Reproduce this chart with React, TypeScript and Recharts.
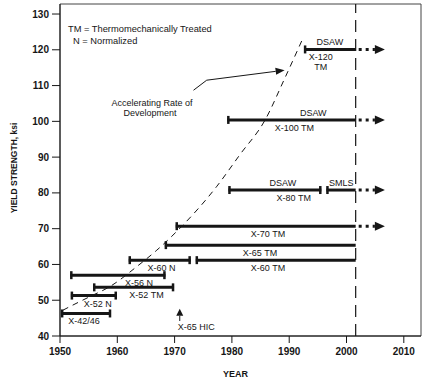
import {
  ComposedChart,
  Line,
  ReferenceArea,
  ReferenceLine,
  XAxis,
  YAxis,
} from "recharts";

const INK = "#161616";
const FONT = "'Liberation Sans', Arial, sans-serif";

const X_TICKS = [1950, 1960, 1970, 1980, 1990, 2000, 2010];
const Y_TICKS = [40, 50, 60, 70, 80, 90, 100, 110, 120, 130];

// dashed "accelerating rate of development" curve
const CURVE = [
  { year: 1950.5, ksi: 47.2 },
  { year: 1951.7, ksi: 48.2 },
  { year: 1955.2, ksi: 51.0 },
  { year: 1958.7, ksi: 53.8 },
  { year: 1963.4, ksi: 59.4 },
  { year: 1966.9, ksi: 64.0 },
  { year: 1970.6, ksi: 69.6 },
  { year: 1977.3, ksi: 81.7 },
  { year: 1981.4, ksi: 90.7 },
  { year: 1985.8, ksi: 100.4 },
  { year: 1989.1, ksi: 111.6 },
  { year: 1992.5, ksi: 123.6 },
];

// grade availability spans
const BARS = [
  { ksi: 46.3, from: 1950.2, to: 1958.9, below: ["X-42/46"], belowAt: 1954.2, endCap: true },
  { ksi: 51.3, from: 1951.9, to: 1959.9, below: ["X-52 N"], belowAt: 1956.6, endCap: true },
  { ksi: 53.6, from: 1955.8, to: 1969.9, below: ["X-52 TM"], belowAt: 1965.1, endCap: true },
  { ksi: 57.0, from: 1951.8, to: 1968.4, below: ["X-56 N"], belowAt: 1963.8, endCap: true },
  { ksi: 61.2, from: 1962.0, to: 1972.8, below: ["X-60 N"], belowAt: 1967.7, endCap: true },
  { ksi: 61.2, from: 1973.7, to: 2001.6, below: ["X-60 TM"], belowAt: 1986.3, endCap: false },
  { ksi: 65.4, from: 1968.3, to: 2001.6, below: ["X-65 TM"], belowAt: 1984.9, endCap: false },
  { ksi: 70.7, from: 1970.2, to: 2001.6, below: ["X-70 TM"], belowAt: 1986.3, endCap: false },
  { ksi: 80.8, from: 1979.4, to: 1995.6, below: ["X-80 TM"], belowAt: 1990.8, above: "DSAW", aboveAt: 1988.9, endCap: true },
  { ksi: 80.8, from: 1996.5, to: 2001.6, above: "SMLS", aboveAt: 1999.1, endCap: false },
  { ksi: 100.4, from: 1979.2, to: 2001.6, below: ["X-100 TM"], belowAt: 1990.9, above: "DSAW", aboveAt: 1994.2, endCap: false },
  { ksi: 120.1, from: 1992.6, to: 2001.6, below: ["X-120", "TM"], belowAt: 1995.5, above: "DSAW", aboveAt: 1997.1, endCap: false },
];

// dotted "continuing" arrows past 2001
const EXTENSIONS = [120.1, 100.4, 80.8, 70.7];
const EXT_FROM = 2001.6;
const EXT_TO = 2006.7;
const CUTOFF_YEAR = 2001.6;

// leader from the curve note to the curve
const LEADER = [
  { year: 1973.3, ksi: 108.7 },
  { year: 1975.6, ksi: 111.5 },
  { year: 1989.2, ksi: 114.3 },
];
const HIC = { year: 1970.9, from: 44.2, to: 47.6, label: "X-65 HIC" };

const txt = { fontFamily: FONT, fontSize: 9, fill: INK };

function BarShape(props: any) {
  const { x1, x2, y1, bar } = props;
  const y = y1;
  const px = (yr: number) => x1 + ((yr - bar.from) / (bar.to - bar.from)) * (x2 - x1);
  return (
    <g>
      <line x1={x1} x2={x2} y1={y} y2={y} stroke={INK} strokeWidth={3} />
      <line x1={x1 + 1} x2={x1 + 1} y1={y - 4} y2={y + 4} stroke={INK} strokeWidth={2.5} />
      {bar.endCap && (
        <line x1={x2 - 1} x2={x2 - 1} y1={y - 4} y2={y + 4} stroke={INK} strokeWidth={2.5} />
      )}
      {bar.below &&
        bar.below.map((t: string, i: number) => (
          <text key={t} x={px(bar.belowAt)} y={y + 8 + i * 10} textAnchor="middle" dominantBaseline="central" {...txt}>
            {t}
          </text>
        ))}
      {bar.above && (
        <text x={px(bar.aboveAt)} y={y - 7} textAnchor="middle" dominantBaseline="central" {...txt}>
          {bar.above}
        </text>
      )}
    </g>
  );
}

function Arrow(props: any) {
  const { x1, y1, x2, y2, head, dotted, len = 9, half = 4.5, width = 1, label } = props;
  const a = Math.atan2(y2 - y1, x2 - x1);
  const bx = x2 - Math.cos(a) * len;
  const by = y2 - Math.sin(a) * len;
  const nx = -Math.sin(a) * half;
  const ny = Math.cos(a) * half;
  return (
    <g>
      <line
        x1={dotted ? x1 + 3 : x1}
        y1={y1}
        x2={head ? bx : x2}
        y2={head ? by : y2}
        stroke={INK}
        strokeWidth={width}
        strokeDasharray={dotted ? "3 4" : undefined}
      />
      {head && (
        <polygon points={`${x2},${y2} ${bx + nx},${by + ny} ${bx - nx},${by - ny}`} fill={INK} />
      )}
      {label && (
        <text x={x1 - 2} y={y1 + 6} dominantBaseline="central" {...txt}>
          {label}
        </text>
      )}
    </g>
  );
}

export default function App() {
  return (
    <div style={{ position: "absolute", left: 0, top: 0, background: "#fff" }}>
      <ComposedChart
        width={425}
        height={380}
        data={CURVE}
        margin={{ top: 4, right: 4, left: 0, bottom: 0 }}
        style={{ fontFamily: FONT }}
      >
        <XAxis
          dataKey="year"
          type="number"
          domain={[1950, 2013]}
          ticks={X_TICKS}
          allowDataOverflow
          height={44}
          tickSize={7}
          tickMargin={5}
          stroke={INK}
          tick={{ fill: INK, fontSize: 10, fontWeight: "bold", fontFamily: FONT }}
          label={({ viewBox }: any) => (
            <text
              x={viewBox.x + viewBox.width / 2 - 5}
              y={374}
              textAnchor="middle"
              dominantBaseline="central"
              fontFamily={FONT}
              fontSize={9}
              fontWeight="bold"
              fill={INK}
            >
              YEAR
            </text>
          )}
        />
        <YAxis
          type="number"
          domain={[40, 132.8]}
          ticks={Y_TICKS}
          allowDataOverflow
          width={60}
          tickSize={8}
          tickMargin={3}
          stroke={INK}
          tick={{ fill: INK, fontSize: 10, fontWeight: "bold", fontFamily: FONT }}
          label={({ viewBox }: any) => (
            <text
              transform={`translate(14,${viewBox.y + viewBox.height / 2 - 2}) rotate(-90)`}
              textAnchor="middle"
              dominantBaseline="central"
              fontFamily={FONT}
              fontSize={8.5}
              fontWeight="bold"
              fill={INK}
            >
              YIELD STRENGTH, ksi
            </text>
          )}
        />
        <ReferenceArea x1={1950} x2={2013} y1={40} y2={132.8} fill="none" stroke="#444" strokeWidth={1} />

        <ReferenceLine x={CUTOFF_YEAR} stroke={INK} strokeWidth={1.2} strokeDasharray="12 7" />

        <Line
          dataKey="ksi"
          type="monotone"
          stroke={INK}
          strokeWidth={1}
          strokeDasharray="6 5"
          dot={false}
          activeDot={false}
          isAnimationActive={false}
        />

        {BARS.map((b, i) => (
          <ReferenceLine
            key={i}
            segment={[
              { x: b.from, y: b.ksi },
              { x: b.to, y: b.ksi },
            ]}
            shape={(p: any) => <BarShape {...p} bar={b} />}
          />
        ))}

        {EXTENSIONS.map((k) => (
          <ReferenceLine
            key={k}
            segment={[
              { x: EXT_FROM, y: k },
              { x: EXT_TO, y: k },
            ]}
            shape={(p: any) => <Arrow {...p} head dotted width={3} len={10} half={4.5} />}
          />
        ))}

        <ReferenceLine
          segment={[
            { x: LEADER[0].year, y: LEADER[0].ksi },
            { x: LEADER[1].year, y: LEADER[1].ksi },
          ]}
          shape={(p: any) => <Arrow {...p} />}
        />
        <ReferenceLine
          segment={[
            { x: LEADER[1].year, y: LEADER[1].ksi },
            { x: LEADER[2].year, y: LEADER[2].ksi },
          ]}
          shape={(p: any) => <Arrow {...p} head len={9} half={3.5} />}
        />
        <ReferenceLine
          segment={[
            { x: HIC.year, y: HIC.from },
            { x: HIC.year, y: HIC.to },
          ]}
          shape={(p: any) => <Arrow {...p} head len={7} half={3.5} label={HIC.label} />}
        />

        <g>
          <text x={68} y={29} dominantBaseline="central" {...txt} fontSize={9.3}>
            TM = Thermomechanically Treated
          </text>
          <text x={73} y={41} dominantBaseline="central" {...txt} fontSize={9.3}>
            N = Normalized
          </text>
          <text x={152} y={102.7} textAnchor="middle" dominantBaseline="central" {...txt}>
            Accelerating  Rate of
          </text>
          <text x={150} y={113.3} textAnchor="middle" dominantBaseline="central" {...txt}>
            Development
          </text>
        </g>
      </ComposedChart>
    </div>
  );
}
